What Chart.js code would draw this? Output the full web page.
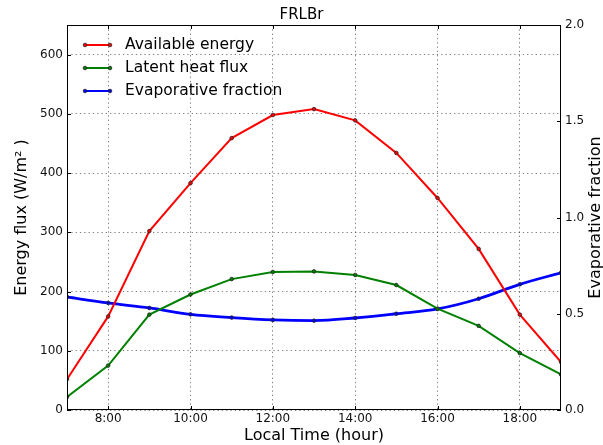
<!DOCTYPE html>
<html>
<head>
<meta charset="utf-8">
<title>FRLBr</title>
<script src="https://cdn.jsdelivr.net/npm/chart.js@4.4.0/dist/chart.umd.min.js"></script>
<style>
  html, body { margin: 0; padding: 0; background: #fff; }
  #fluxChart { display: block; }
</style>
</head>
<body>
<canvas id="fluxChart" width="603" height="445"></canvas>
<script>
// Diurnal course at FRLBr, hourly values (local time)
const hours = [7, 8, 9, 10, 11, 12, 13, 14, 15, 16, 17, 18, 19];
const availableEnergy = [52, 158, 302, 383, 459, 498, 508, 489, 434, 358, 272, 161, 81];
const latentHeatFlux = [22, 75, 161, 195, 221, 233, 234, 228, 211, 171, 142, 96, 60];
const evaporativeFraction = [0.587, 0.556, 0.530, 0.497, 0.480, 0.468, 0.464, 0.478, 0.500, 0.525, 0.578, 0.653, 0.713];

const xTickHours = [8, 10, 12, 14, 16, 18];
const energyTicks = [0, 100, 200, 300, 400, 500, 600];
const fractionTicks = [0, 0.5, 1.0, 1.5, 2.0];

const FONT = "DejaVu Sans";
Chart.defaults.font.family = FONT;
Chart.defaults.color = "#000";

const GRID_COLOR = "rgba(0,0,0,0.5)";
const GRID_DASH = [1.3, 3];

const toPoints = (values) => hours.map((h, i) => ({ x: h, y: values[i] }));

const setTicks = (values) => (scale) => {
  scale.ticks = values.map((v) => ({ value: v }));
};

// frame, inward tick marks, right axis title and the in-plot legend
const framePlugin = {
  id: "framePlugin",
  afterDatasetsDraw(chart) {
    const { ctx, chartArea: a, scales } = chart;
    ctx.save();
    ctx.setLineDash([]);
    ctx.strokeStyle = "#000";
    ctx.lineWidth = 1;
    ctx.strokeRect(a.left + 0.5, a.top + 0.5, a.right - a.left - 1, a.bottom - a.top - 1);

    const tick = 4;
    ctx.beginPath();
    xTickHours.forEach((h) => {
      const px = Math.round(scales.x.getPixelForValue(h)) + 0.5;
      ctx.moveTo(px, a.bottom);
      ctx.lineTo(px, a.bottom - tick);
      ctx.moveTo(px, a.top);
      ctx.lineTo(px, a.top + tick);
    });
    energyTicks.forEach((v) => {
      const py = Math.round(scales.y.getPixelForValue(v)) + 0.5;
      ctx.moveTo(a.left, py);
      ctx.lineTo(a.left + tick, py);
    });
    fractionTicks.forEach((v) => {
      const py = Math.round(scales.y1.getPixelForValue(v)) + 0.5;
      ctx.moveTo(a.right, py);
      ctx.lineTo(a.right - tick, py);
    });
    ctx.stroke();

    // right axis title, reading bottom to top
    ctx.fillStyle = "#000";
    ctx.font = "16px " + FONT;
    ctx.textAlign = "center";
    ctx.textBaseline = "middle";
    ctx.translate(596, (a.top + a.bottom) / 2);
    ctx.rotate(-Math.PI / 2);
    ctx.fillText("Evaporative fraction", 0, 0);
    ctx.restore();

    // legend
    ctx.save();
    ctx.font = "15.5px " + FONT;
    ctx.textAlign = "left";
    ctx.textBaseline = "middle";
    chart.data.datasets.forEach((ds, i) => {
      const y = 45 + i * 23;
      const x0 = a.left + 18;
      const x1 = a.left + 43;
      ctx.strokeStyle = ds.borderColor;
      ctx.lineWidth = 2;
      ctx.beginPath();
      ctx.moveTo(x0, y);
      ctx.lineTo(x1, y);
      ctx.stroke();
      [x0, x1].forEach((x) => {
        ctx.beginPath();
        ctx.arc(x, y, 1.8, 0, Math.PI * 2);
        ctx.fillStyle = ds.borderColor;
        ctx.fill();
        ctx.strokeStyle = "#222";
        ctx.lineWidth = 0.8;
        ctx.stroke();
      });
      ctx.fillStyle = "#000";
      ctx.fillText(ds.label, a.left + 58, y);
    });
    ctx.restore();
  },
};

const seriesStyle = (color, width) => ({
  borderColor: color,
  backgroundColor: color,
  borderWidth: width,
  pointRadius: 1.8,
  pointBackgroundColor: color,
  pointBorderColor: "#222",
  pointBorderWidth: 0.8,
  pointHoverRadius: 1.8,
  fill: false,
  tension: 0,
});

new Chart(document.getElementById("fluxChart"), {
  type: "line",
  data: {
    datasets: [
      {
        label: "Available energy",
        data: toPoints(availableEnergy),
        yAxisID: "y",
        ...seriesStyle("#ff0000", 2),
      },
      {
        label: "Latent heat flux",
        data: toPoints(latentHeatFlux),
        yAxisID: "y",
        ...seriesStyle("#008000", 2),
      },
      {
        label: "Evaporative fraction",
        data: toPoints(evaporativeFraction),
        yAxisID: "y1",
        ...seriesStyle("#0000ff", 2.8),
        cubicInterpolationMode: "monotone",
      },
    ],
  },
  options: {
    responsive: false,
    devicePixelRatio: 1,
    animation: false,
    layout: { padding: 0 },
    plugins: {
      legend: { display: false },
      tooltip: { enabled: false },
      title: {
        display: true,
        text: "FRLBr",
        color: "#000",
        font: { size: 15, weight: "normal" },
        padding: { top: 6, bottom: 1 },
      },
    },
    scales: {
      x: {
        type: "linear",
        min: 7,
        max: 19,
        afterBuildTicks: setTicks(xTickHours),
        afterFit: (scale) => { scale.height = 35; },
        grid: { color: GRID_COLOR, lineWidth: 1, drawTicks: false },
        border: { display: false, dash: GRID_DASH },
        ticks: {
          padding: 2,
          font: { size: 12 },
          color: "#111",
          maxRotation: 0,
          callback: (v) => v + ":00",
        },
        title: {
          display: true,
          text: "Local Time (hour)",
          font: { size: 16 },
          color: "#000",
          padding: { top: 0, bottom: 0 },
        },
      },
      y: {
        type: "linear",
        position: "left",
        min: 0,
        max: 650,
        afterBuildTicks: setTicks(energyTicks),
        afterFit: (scale) => { scale.width = 67; },
        grid: { color: GRID_COLOR, lineWidth: 1, drawTicks: false },
        border: { display: false, dash: GRID_DASH },
        ticks: {
          padding: 4,
          font: { size: 12 },
          color: "#111",
          callback: (v) => String(v),
        },
        title: {
          display: true,
          text: "Energy flux (W/m² )",
          font: { size: 16 },
          color: "#000",
          padding: { top: 12, bottom: 0 },
        },
      },
      y1: {
        type: "linear",
        position: "right",
        min: 0,
        max: 2,
        afterBuildTicks: setTicks(fractionTicks),
        afterFit: (scale) => { scale.width = 42; },
        grid: { display: false, drawTicks: false },
        border: { display: false },
        ticks: {
          padding: 4,
          font: { size: 12 },
          color: "#111",
          callback: (v) => v.toFixed(1),
        },
      },
    },
  },
  plugins: [framePlugin],
});
</script>
</body>
</html>
